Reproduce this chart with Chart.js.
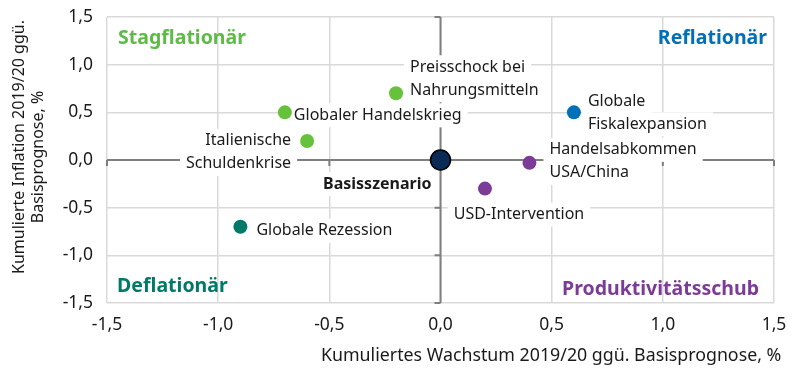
<!DOCTYPE html>
<html>
<head>
<meta charset="utf-8">
<script src="https://cdn.jsdelivr.net/npm/chart.js@4"></script>
<style>
  body { margin: 0; background: #fff; }
  #wrap { width: 800px; height: 386px; }
</style>
</head>
<body>
<div id="wrap"><canvas id="chart"></canvas></div>
<script>
// Szenarien: Wachstum (x) und Inflation (y), Abweichung von der Basisprognose in %
const scenarios = ['Globaler Handelskrieg', 'Preisschock bei Nahrungsmitteln', 'Italienische Schuldenkrise',
  'Basisszenario', 'Globale Fiskalexpansion', 'Handelsabkommen USA/China', 'USD-Intervention', 'Globale Rezession'];
const growth = [-0.7, -0.2, -0.6, 0.0, 0.6, 0.4, 0.2, -0.9];
const inflation = [0.5, 0.7, 0.2, 0.0, 0.5, -0.03, -0.3, -0.7];
const pointColors = ['#66c23a', '#66c23a', '#66c23a', '#0b2a55', '#0070b8', '#7c3b96', '#7c3b96', '#007a68'];
const xTicks = [-1.5, -1.0, -0.5, 0.0, 0.5, 1.0, 1.5];
const yTicks = [-1.5, -1.0, -0.5, 0.0, 0.5, 1.0, 1.5];
const quadrants = ['Stagflationär', 'Reflationär', 'Deflationär', 'Produktivitätsschub'];
const quadrantColors = ['#5dbb46', '#0070b8', '#007a68', '#7c3b96'];

const FONT = '"Noto Sans", sans-serif';
const fmt = v => v.toFixed(1).replace('.', ',');

// Beschriftungen: Zeilen, Versatz zum Punkt (px), Ausrichtung
const labelLines = [
  ['Globaler Handelskrieg'],
  ['Preisschock bei', 'Nahrungsmitteln'],
  ['Italienische', 'Schuldenkrise'],
  ['Basisszenario'],
  ['Globale', 'Fiskalexpansion'],
  ['Handelsabkommen', 'USA/China'],
  ['USD-Intervention'],
  ['Globale Rezession']
];
const labelPos = [
  { dx: 9, dy: 3, align: 'left' },
  { dx: 14, dy: -26, align: 'left' },
  { dx: -16, dy: 0, align: 'right' },
  { dx: -9, dy: 24, align: 'right', bold: true },
  { dx: 14, dy: -11, align: 'left' },
  { dx: 20, dy: -13, align: 'left' },
  { dx: 34, dy: 26, align: 'center' },
  { dx: 16, dy: 4, align: 'left' }
];
const LINE_H = 23;

const points = growth.map((x, i) => ({ x: x, y: inflation[i] }));

const annotations = {
  id: 'annotations',
  beforeDatasetsDraw(chart) {
    const ctx = chart.ctx;
    const xs = chart.scales.x, ys = chart.scales.y;
    const x0 = xs.getPixelForValue(0), y0 = ys.getPixelForValue(0);
    const a = chart.chartArea;
    ctx.save();
    // Nullachsen mit kleinen Strichen
    ctx.strokeStyle = '#7f7f7f';
    ctx.lineWidth = 2;
    ctx.beginPath();
    ctx.moveTo(a.left, y0); ctx.lineTo(a.right, y0);
    ctx.moveTo(x0, a.top); ctx.lineTo(x0, a.bottom);
    xTicks.forEach(t => {
      const px = xs.getPixelForValue(t);
      ctx.moveTo(px, y0); ctx.lineTo(px, y0 + 6);
    });
    yTicks.forEach(t => {
      const py = ys.getPixelForValue(t);
      ctx.moveTo(x0 - 6, py); ctx.lineTo(x0, py);
    });
    ctx.stroke();

    // Punktbeschriftungen mit weißem Hintergrund
    ctx.textBaseline = 'middle';
    labelLines.forEach((lines, i) => {
      const p = labelPos[i];
      const px = xs.getPixelForValue(growth[i]) + p.dx;
      const py = ys.getPixelForValue(inflation[i]) + p.dy;
      ctx.font = (p.bold ? 'bold ' : '') + '16px ' + FONT;
      ctx.textAlign = p.align;
      lines.forEach((line, j) => {
        const w = ctx.measureText(line).width;
        let left = px;
        if (p.align === 'right') left = px - w;
        if (p.align === 'center') left = px - w / 2;
        const ly = py + j * LINE_H;
        ctx.fillStyle = '#fff';
        ctx.fillRect(left - 6, ly - 12, w + 12, 24);
      });
      ctx.fillStyle = '#1a1a1a';
      lines.forEach((line, j) => ctx.fillText(line, px, py + j * LINE_H));
    });

    // Quadranten
    ctx.font = 'bold 19.5px ' + FONT;
    const qpos = [
      { x: a.left + 11, y: a.top + 21, align: 'left' },
      { x: a.right - 7, y: a.top + 21, align: 'right' },
      { x: a.left + 10, y: a.bottom - 17, align: 'left' },
      { x: a.right - 15, y: a.bottom - 14, align: 'right' }
    ];
    quadrants.forEach((q, i) => {
      ctx.fillStyle = quadrantColors[i];
      ctx.textAlign = qpos[i].align;
      ctx.fillText(q, qpos[i].x, qpos[i].y);
    });
    ctx.restore();
  },
  afterDraw(chart) {
    const ctx = chart.ctx;
    ctx.save();
    ctx.fillStyle = '#1a1a1a';
    ctx.font = '17.8px ' + FONT;
    ctx.textBaseline = 'middle';
    ctx.textAlign = 'left';
    ctx.fillText('Kumuliertes Wachstum 2019/20 ggü. Basisprognose, %', 321, 356);
    ctx.font = '16px ' + FONT;
    ctx.rotate(-Math.PI / 2);
    ctx.textAlign = 'center';
    ctx.fillText('Kumulierte Inflation 2019/20 ggü.', -147, 19);
    ctx.fillText('Basisprognose, %', -157, 38);
    ctx.restore();
  }
};

new Chart(document.getElementById('chart'), {
  type: 'scatter',
  data: {
    datasets: [{
      data: points,
      pointBackgroundColor: pointColors,
      pointBorderColor: pointColors.map((c, i) => i === 3 ? '#000' : c),
      pointBorderWidth: pointColors.map((c, i) => i === 3 ? 1.5 : 0),
      pointRadius: pointColors.map((c, i) => i === 3 ? 10 : 7),
      pointHoverRadius: pointColors.map((c, i) => i === 3 ? 10 : 7)
    }]
  },
  options: {
    responsive: true,
    maintainAspectRatio: false,
    animation: false,
    layout: { padding: { top: 17, right: 26, left: 0, bottom: 0 } },
    plugins: { legend: { display: false }, tooltip: { enabled: false } },
    scales: {
      x: {
        type: 'linear', min: -1.5, max: 1.5,
        afterBuildTicks: s => { s.ticks = xTicks.map(v => ({ value: v })); },
        afterFit: s => { s.height = 83; },
        grid: { color: '#d9d9d9', lineWidth: 1.5, drawTicks: false },
        border: { display: false },
        ticks: { callback: v => fmt(v), color: '#1a1a1a', font: { family: FONT, size: 17.5 }, padding: 12, maxRotation: 0 }
      },
      y: {
        type: 'linear', min: -1.5, max: 1.5,
        afterBuildTicks: s => { s.ticks = yTicks.map(v => ({ value: v })); },
        afterFit: s => { s.width = 107; s.paddingTop = 0; },
        grid: { color: '#d9d9d9', lineWidth: 1.5, drawTicks: false },
        border: { display: false },
        ticks: { callback: v => fmt(v), color: '#1a1a1a', font: { family: FONT, size: 17.5 }, padding: 14 }
      }
    }
  },
  plugins: [annotations]
});
</script>
</body>
</html>
